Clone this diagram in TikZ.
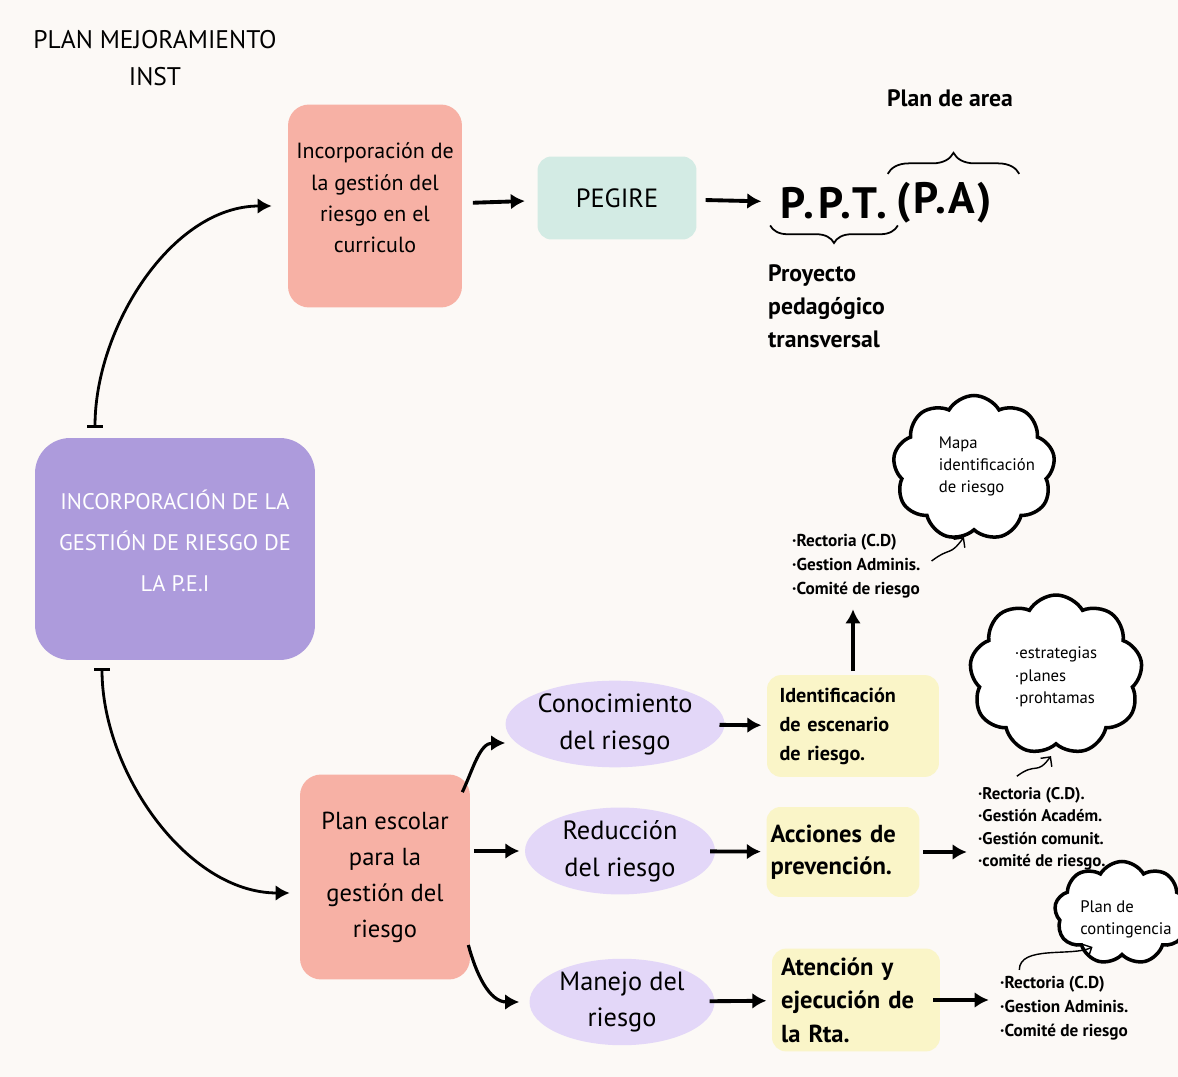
\documentclass[tikz,border=0pt]{standalone}
\usepackage{fontspec}
\setmainfont{PT Sans}
\usetikzlibrary{arrows.meta,shapes.geometric,shapes.symbols,decorations.pathreplacing}

\definecolor{bgcream}{HTML}{FCF9F6}
\definecolor{salmon}{HTML}{F7B1A5}
\definecolor{mint}{HTML}{D3EBE4}
\definecolor{violet}{HTML}{AD9BDC}
\definecolor{lilac}{HTML}{E3D7F8}
\definecolor{butter}{HTML}{FAF5C8}

\begin{document}
\begin{tikzpicture}[
    x=0.02cm, y=-0.02cm,
    >={Latex[length=8pt,width=9pt]},
    box/.style={rounded corners=12pt, align=center, inner sep=0pt},
    arr/.style={->, line width=2.2pt, shorten <=2pt, shorten >=3pt},
    bar/.style={{Bar[width=9pt]}->, line width=1.6pt},
    curl/.style={-{Straight Barb[length=4pt]}, line width=0.8pt},
    puff/.style={cloud, cloud puffs=9, cloud puff arc=120, draw, line width=2pt, fill=white, inner sep=0pt},
    list/.style={anchor=west, align=left, font=\bfseries\fontsize{9.8}{13.6}\selectfont}
  ]
    \useasboundingbox[fill=bgcream] (0,0) rectangle (1178,1077);

    % Title
    \node[align=center, font=\fontsize{14.5}{21}\selectfont] (title) at (155,58) {PLAN MEJORAMIENTO\\INST};

    % Top row
    \node[box, fill=salmon, minimum width=3.48cm, minimum height=4.06cm, font=\fontsize{12.5}{17.8}\selectfont] (curr) at (375,206) {Incorporación de\\la gestión del\\riesgo en el\\curriculo\\[-0.3cm]};
    \node[box, fill=mint, rounded corners=8pt, minimum width=3.18cm, minimum height=1.66cm, font=\fontsize{15}{18}\selectfont] (pegire) at (617,198) {PEGIRE};
    \node[font=\bfseries\fontsize{25}{28}\selectfont\addfontfeature{LetterSpace=8}, minimum width=2.54cm, inner sep=3pt] (ppt) at (834,203) {P.P.T.};
    \node[font=\bfseries\fontsize{25}{28}\selectfont\addfontfeature{LetterSpace=6}, inner sep=3pt] (pa) at (944,203) {(P.A)};
    \node[font=\bfseries\fontsize{13.5}{16}\selectfont] (area) at (950,98) {Plan de area};
    \node[anchor=west, align=left, font=\bfseries\fontsize{13.5}{18.8}\selectfont] (proy) at (762,306) {Proyecto\\pedagógico\\transversal};

    % Braces
    \draw[line width=1pt, decorate, decoration={brace, amplitude=10pt}] ([yshift=-0.02cm]ppt.south east) -- ([yshift=-0.02cm]ppt.south west);
    \draw[line width=1pt, decorate, decoration={brace, amplitude=12pt}] ([xshift=-0.06cm,yshift=0.06cm]pa.north west) -- ([xshift=0.44cm,yshift=0.06cm]pa.north east);

    % Left box
    \node[box, fill=violet, rounded corners=20pt, minimum width=5.6cm, minimum height=4.44cm, text=white, font=\fontsize{12.8}{23.5}\selectfont] (pei) at (175,549) {INCORPORACIÓN DE LA\\GESTIÓN DE RIESGO DE\\LA P.E.I\\[-0.5cm]};

    % Bottom part
    \node[box, fill=salmon, minimum width=3.4cm, minimum height=4.1cm, font=\fontsize{14}{20.5}\selectfont] (plan) at (385,877) {Plan escolar\\para la\\gestión del\\riesgo};
    \node[ellipse, fill=lilac, minimum width=4.0cm, minimum height=1.7cm, align=center, inner sep=0pt, font=\fontsize{15}{21}\selectfont] (cono) at (615,724) {Conocimiento\\del riesgo};
    \node[ellipse, fill=lilac, minimum width=3.8cm, minimum height=1.68cm, align=center, inner sep=0pt, font=\fontsize{15}{21}\selectfont] (redu) at (620,851) {Reducción\\del riesgo};
    \node[ellipse, fill=lilac, minimum width=3.7cm, minimum height=1.64cm, align=center, inner sep=0pt, font=\fontsize{15}{21}\selectfont] (mane) at (622,1002) {Manejo del\\riesgo};

    \node[box, fill=butter, rounded corners=8pt, align=left, text width=2.94cm, inner sep=0.25cm, minimum height=1.76cm, font=\bfseries\fontsize{11.5}{16.5}\selectfont] (iden) at (853,726) {Identificación\\de escenario\\de riesgo.};
    \node[box, fill=butter, rounded corners=8pt, align=left, text width=2.9cm, inner sep=0.08cm, minimum height=1.8cm, font=\bfseries\fontsize{14}{18.5}\selectfont] (acci) at (843,852) {Acciones de\\prevención.};
    \node[box, fill=butter, rounded corners=8pt, align=left, text width=3.0cm, inner sep=0.18cm, minimum height=1.76cm, font=\bfseries\fontsize{14}{19}\selectfont] (aten) at (856,1000) {Atención y\\ejecución de\\la Rta.};

    % Lists
    \node[list] (list1) at (786,566) {·Rectoria (C.D)\\·Gestion Adminis.\\·Comité de riesgo};
    \node[list, font=\bfseries\fontsize{9.6}{12.8}\selectfont] (list2) at (972,829) {·Rectoria (C.D).\\·Gestión Académ.\\·Gestión comunit.\\·comité de riesgo.};
    \node[list] (list3) at (994,1008) {·Rectoria (C.D)\\·Gestion Adminis.\\·Comité de riesgo};

    % Clouds
    \node[puff, minimum width=3.24cm, minimum height=2.9cm] (cloud1) at (974,468) {};
    \node[align=left, font=\fontsize{9.5}{12.5}\selectfont] (map) at (987,466) {Mapa\\identificación\\de riesgo};
    \node[puff, minimum width=3.46cm, minimum height=3.2cm] (cloud2) at (1056,675) {};
    \node[align=left, font=\fontsize{9.5}{12.8}\selectfont] (estr) at (1056,677) {·estrategias\\·planes\\·prohtamas};
    \node[puff, minimum width=2.7cm, minimum height=2.06cm] (cloud3) at (1122,913) {};
    \node[align=left, font=\fontsize{9.5}{12.5}\selectfont] (cont) at (1126,919) {Plan de\\contingencia};

    % Connections
    \draw[bar] ([xshift=-1.6cm,yshift=0.2cm]pei.north) to[out=90, in=180, looseness=0.9] ([xshift=-0.32cm]curr.west);
    \draw[bar] ([xshift=-1.46cm,yshift=-0.16cm]pei.south) to[out=-90, in=180, looseness=0.9] ([xshift=-0.2cm,yshift=-0.32cm]plan.west);
    \draw[arr, shorten <=6pt, shorten >=7pt] (curr) -- (pegire);
    \draw[arr, shorten <=5pt, shorten >=5pt] (pegire) -- (ppt);
    \draw[->, line width=1.8pt] ([xshift=-0.16cm,yshift=-0.36cm]plan.north east) to[out=65, in=180] ([yshift=-0.38cm]cono.west);
    \draw[arr] (plan.east |- redu.west) -- (redu.west);
    \draw[->, line width=1.8pt] ([xshift=-0.04cm,yshift=-1.36cm]plan.east) to[out=-75, in=180] ([xshift=-0.2cm]mane.west);
    \draw[arr, shorten <=-3pt] (cono) -- (iden);
    \draw[arr, shorten <=-3pt] (redu) -- (acci);
    \draw[arr, shorten <=-3pt] (mane) -- (aten);
    \draw[arr] (iden.north) -- (iden.north |- list1.south);
    \draw[arr] (acci.east) -- (acci.east -| list2.west);
    \draw[arr, shorten <=-4pt] (aten.east) -- (aten.east -| list3.west);
    \draw[curl] ([xshift=0.1cm,yshift=0.1cm]list1.east) .. controls +(0.4cm,0.3cm) and +(-0.3cm,-0.4cm) .. ([xshift=-0.2cm,yshift=-0.1cm]cloud1.south);
    \draw[curl] ([xshift=-0.5cm,yshift=0.1cm]list2.north) .. controls +(0.4cm,0.3cm) and +(-0.3cm,-0.4cm) .. ([xshift=-0.1cm,yshift=-0.2cm]cloud2.south);
    \draw[curl] ([xshift=-0.9cm]list3.north) .. controls +(0cm,0.5cm) and +(-0.4cm,-0.2cm) .. ([xshift=0.3cm]cloud3.south west);
\end{tikzpicture}
\end{document}
